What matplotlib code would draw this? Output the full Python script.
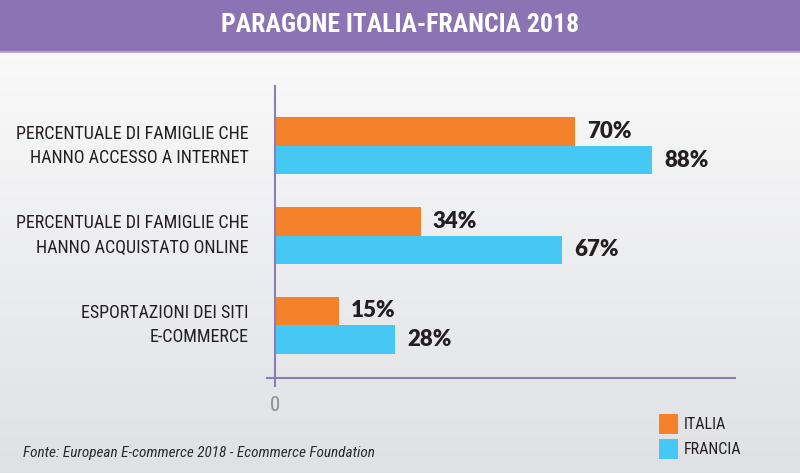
import numpy as np
import matplotlib
matplotlib.use("Agg")
import matplotlib.pyplot as plt
from matplotlib import font_manager
from matplotlib.patches import Rectangle

# data
categories = ["PERCENTUALE DI FAMIGLIE CHE\nHANNO ACCESSO A INTERNET",
              "PERCENTUALE DI FAMIGLIE CHE\nHANNO ACQUISTATO ONLINE",
              "ESPORTAZIONI DEI SITI\nE-COMMERCE"]
italia = [70, 34, 15]
francia = [88, 67, 28]
series_names = ["ITALIA", "FRANCIA"]
title = "PARAGONE ITALIA-FRANCIA 2018"
source = "Fonte: European E-commerce 2018 - Ecommerce Foundation"

ORANGE = "#F5822A"
BLUE = "#45C8F4"
PURPLE = "#8A74B4"
AXIS = "#8C7DB8"
DARK = "#231F20"

# pick a narrow font if there is one
names = {f.name for f in font_manager.fontManager.ttflist}
cond = next((n for n in ["Liberation Sans Narrow", "Roboto Condensed", "Open Sans Condensed",
                         "DejaVu Sans Condensed"] if n in names), "DejaVu Sans")
stretch = "condensed"
bold_font = "Lato" if "Lato" in names else "DejaVu Sans"

W, H = 800, 473
fig = plt.figure(figsize=(W / 100, H / 100), dpi=100)


def fx(x):
    return x / W


def fy(y):
    return 1 - y / H


# background gradient
bg = fig.add_axes([0, 0, 1, 1], zorder=0)
grad = np.linspace(0, 1, 256).reshape(-1, 1)
top = np.array([0.99, 0.99, 0.99])
bot = np.array([0.878, 0.882, 0.894])
img = top + (bot - top) * grad[:, :, None]
bg.imshow(img, aspect="auto", extent=[0, 1, 0, 1])
bg.axis("off")

# title banner
fig.patches.append(Rectangle((0, fy(51)), 1, 51 / H, transform=fig.transFigure,
                             facecolor=PURPLE, edgecolor="none", zorder=1))
fig.patches.append(Rectangle((0, fy(53)), 1, 2 / H, transform=fig.transFigure,
                             facecolor="#B4A8D2", edgecolor="none", zorder=1))
fig.text(0.5, fy(25), title, color="white", fontsize=18.5, fontweight="bold",
         family=cond, fontstretch=stretch, ha="center", va="center", zorder=3)

# main axes
ax = fig.add_axes([fx(266), fy(387), 470 / W, 302 / H], zorder=2)
ax.patch.set_alpha(0)
ax.set_xlim(-2.1, 107.6)
ax.set_ylim(2.69, -0.68)
for s in ax.spines.values():
    s.set_visible(False)
ax.set_xticks([])
ax.set_yticks([])

h = 0.318
y = np.arange(len(categories))
ax.barh(y - h / 2, italia, height=h, color=ORANGE)
ax.barh(y + h / 2, francia, height=h, color=BLUE)

ax.axvline(0, color=AXIS, lw=1.5)
ax.axhline(2.59, color=AXIS, lw=1.5)

for i in range(len(categories)):
    ax.text(italia[i] + 2.8, i - h / 2, f"{italia[i]}%", ha="left", va="center",
            fontsize=16, fontweight="heavy", family=bold_font, color=DARK)
    ax.text(francia[i] + 2.8, i + h / 2, f"{francia[i]}%", ha="left", va="center",
            fontsize=16, fontweight="heavy", family=bold_font, color=DARK)
    ax.text(-6.07, i, categories[i], ha="right", va="center", fontsize=13,
            family=cond, fontstretch=stretch, color=DARK, linespacing=1.45, clip_on=False)

fig.text(fx(275), fy(405), "0", color="#8E8E8E", fontsize=15, family=cond,
         fontstretch=stretch, ha="center", va="center")

# legend
for k, (name, col) in enumerate(zip(series_names, [ORANGE, BLUE])):
    yc = 424 + 25 * k
    fig.patches.append(Rectangle((fx(659), fy(yc + 10)), 19 / W, 20 / H,
                                 transform=fig.transFigure, facecolor=col, edgecolor="none"))
    fig.text(fx(684), fy(yc), name, fontsize=11.5, family=cond, fontstretch=stretch,
             color=DARK, ha="left", va="center")

fig.text(fx(23), fy(453), source, fontsize=11, style="italic", family=cond,
         fontstretch=stretch, color="#2B2B2B", ha="left", va="center")

fig.savefig("out.png", dpi=100)
